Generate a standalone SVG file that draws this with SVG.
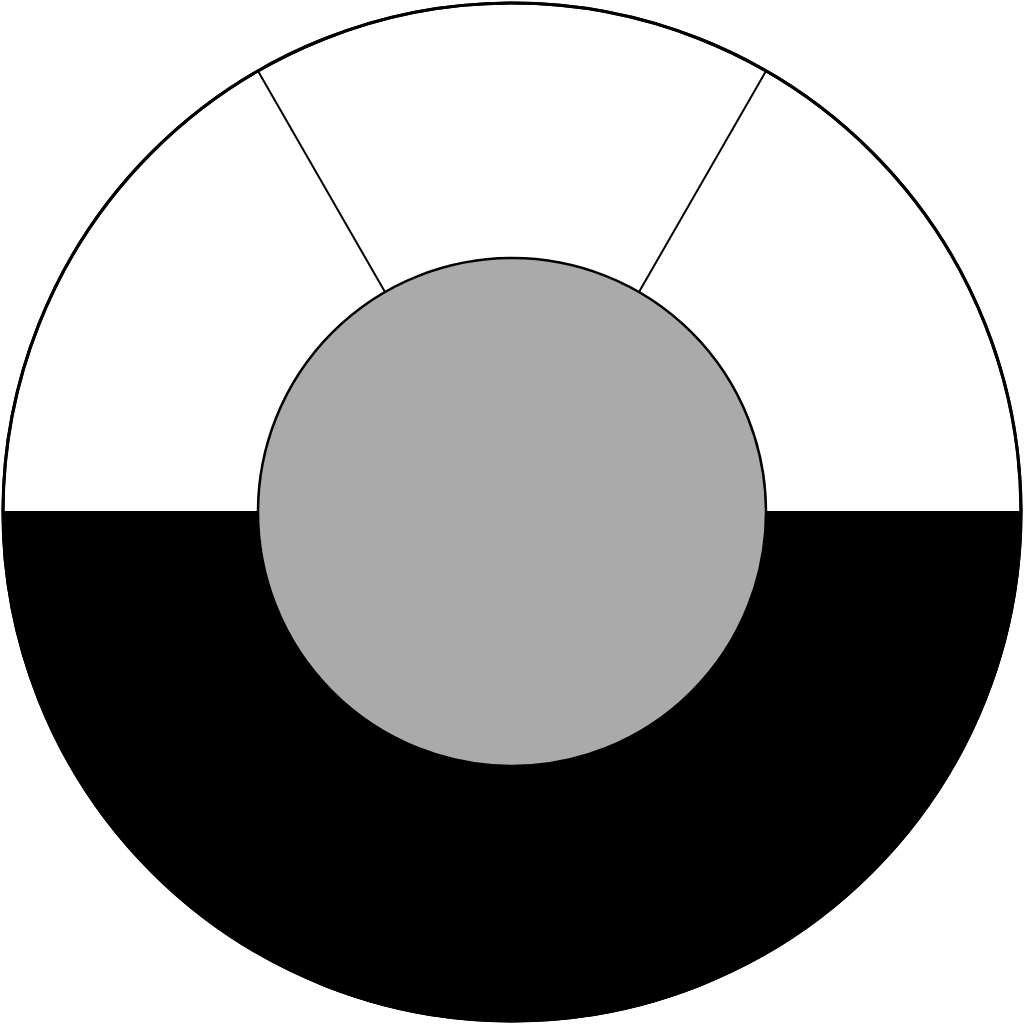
<svg xmlns="http://www.w3.org/2000/svg" width="1024" height="1024" viewBox="0 0 1024 1024">
<style>
.ring{fill:#fff;stroke:#000;stroke-width:3}
.half{fill:#000;stroke:#000;stroke-width:2}
.hub{fill:#aaa;stroke:#000;stroke-width:2.5}
.div{stroke:#000;stroke-width:2;fill:none}
</style>
<g id="outer">
<circle class="ring" cx="512" cy="512" r="509"/>
<path class="half" d="M 3 512 A 509 509 0 0 0 1021 512 Z"/>
<circle cx="512" cy="512" r="509" fill="none" stroke="#000" stroke-width="3"/>
</g>
<g id="connectors">
<line class="div" x1="385" y1="292" x2="258" y2="71"/>
<line class="div" x1="639" y1="292" x2="766" y2="71"/>
</g>
<g id="hub">
<circle class="hub" cx="512" cy="512" r="254"/>
</g>
</svg>
